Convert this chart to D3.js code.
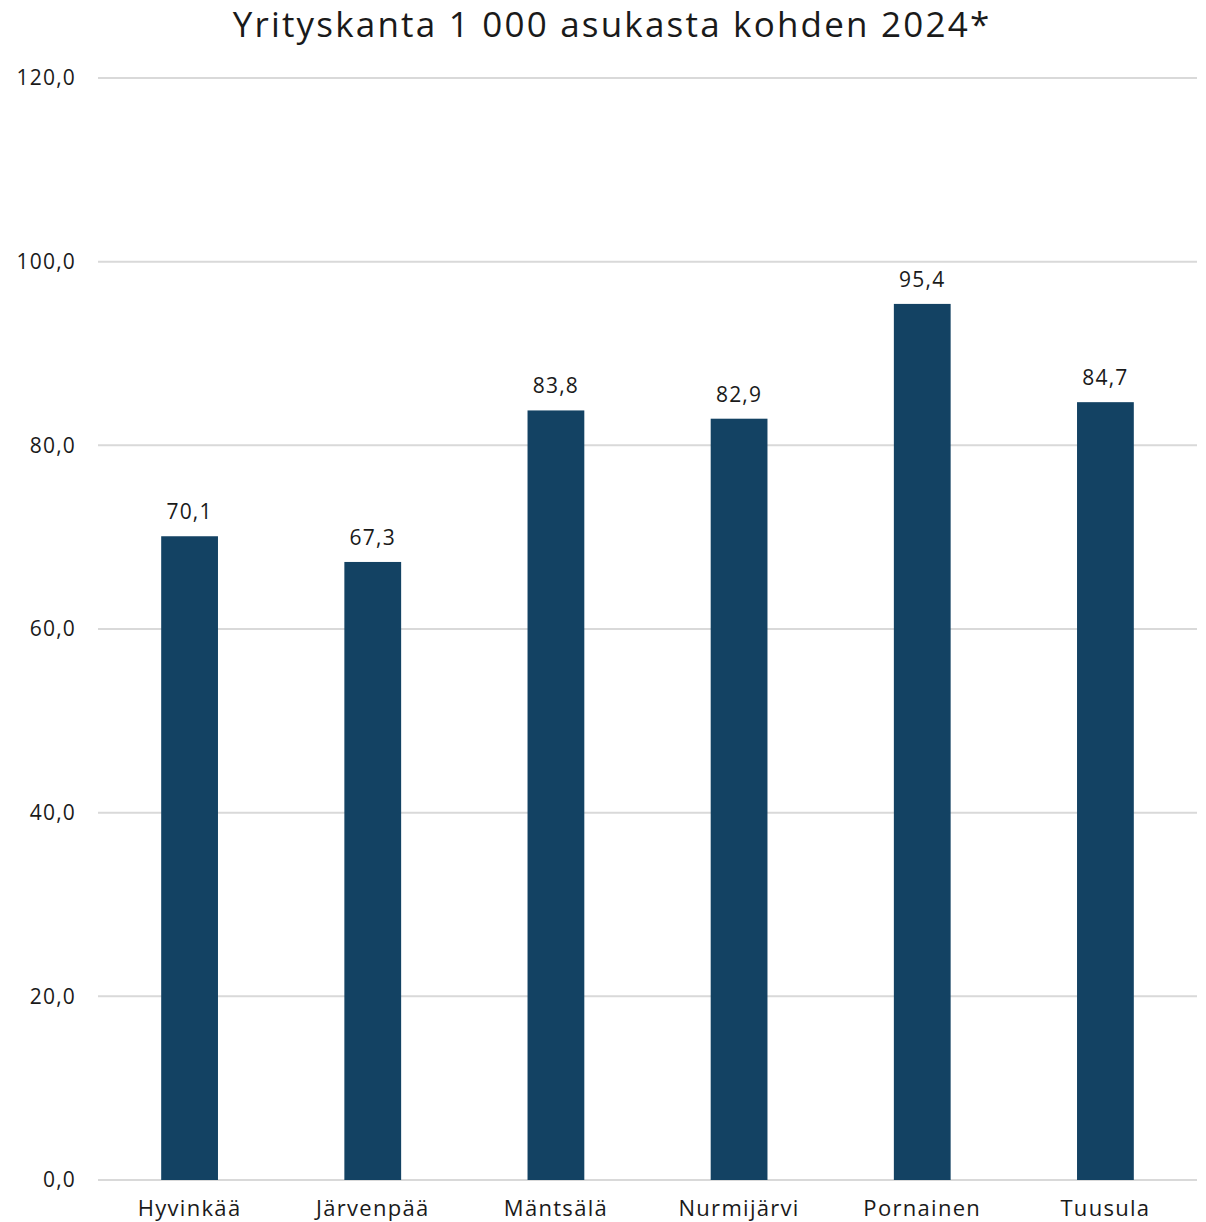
<!DOCTYPE html>
<html>
<head>
<meta charset="utf-8">
<script src="https://cdn.jsdelivr.net/npm/d3@7"></script>
<style>
  body { margin: 0; background: #fff; }
  text { font-family: "Open Sans", "Noto Sans", sans-serif; fill: #1a1a1a; }
</style>
</head>
<body>
<script>
// Data
const municipalities = ["Hyvinkää", "Järvenpää", "Mäntsälä", "Nurmijärvi", "Pornainen", "Tuusula"];
const firmsPer1000 = [70.1, 67.3, 83.8, 82.9, 95.4, 84.7];
const yTicks = [0, 20, 40, 60, 80, 100, 120];

const width = 1206;
const height = 1222;
const margin = {top: 78, right: 9, bottom: 42, left: 98};

let svg = d3.select("body").append("svg")
    .attr("width", width)
    .attr("height", height)

let xScale = d3.scaleBand()
    .domain(municipalities)
    .range([margin.left, width - margin.right])
    .paddingInner(0.69)
    .paddingOuter(0.345)
let yScale = d3.scaleLinear()
    .domain([0, 120])
    .range([height - margin.bottom, margin.top])

const fmt = v => d3.format(".1f")(v).replace(".", ",");

// gridlines
svg.selectAll(".grid")
    .data(yTicks).enter()
        .append("line")
    .attr("x1", margin.left)
    .attr("x2", width - margin.right)
    .attr("y1", d => yScale(d))
    .attr("y2", d => yScale(d))
    .attr("stroke", "#d9d9d9")
    .attr("stroke-width", 2)

// y tick labels
svg.selectAll(".ylabel")
    .data(yTicks).enter()
        .append("text")
    .attr("x", 76)
    .attr("y", d => yScale(d))
    .attr("dy", "0.35em")
    .attr("text-anchor", "end")
    .style("font-size", "21px")
    .style("letter-spacing", "1.2px")
    .text(d => fmt(d))

let data = municipalities.map((m, i) => ({name: m, value: firmsPer1000[i]}));

svg.selectAll(".bar")
    .data(data).enter()
        .append("rect")
    .attr("class", "bar")
    .attr("x", d => xScale(d.name))
    .attr("width", xScale.bandwidth())
    .attr("y", d => yScale(d.value))
    .attr("height", d => yScale(0) - yScale(d.value))
    .attr("fill", "#134263")

svg.selectAll(".vlabel")
    .data(data).enter()
        .append("text")
    .attr("x", d => xScale(d.name) + xScale.bandwidth() / 2)
    .attr("y", d => yScale(d.value) - 17)
    .attr("text-anchor", "middle")
    .style("font-size", "21px")
    .style("letter-spacing", "1.2px")
    .text(d => fmt(d.value))

// x labels
svg.selectAll(".xlabel")
    .data(municipalities).enter()
        .append("text")
    .attr("x", d => xScale(d) + xScale.bandwidth() / 2)
    .attr("y", 1216)
    .attr("text-anchor", "middle")
    .style("font-size", "22px")
    .style("letter-spacing", "1.3px")
    .text(d => d)

// title
svg.append("text")
    .attr("x", 612)
    .attr("y", 37)
    .attr("text-anchor", "middle")
    .style("font-size", "35px")
    .style("letter-spacing", "2.2px")
    .text("Yrityskanta 1 000 asukasta kohden 2024*")
</script>
</body>
</html>
